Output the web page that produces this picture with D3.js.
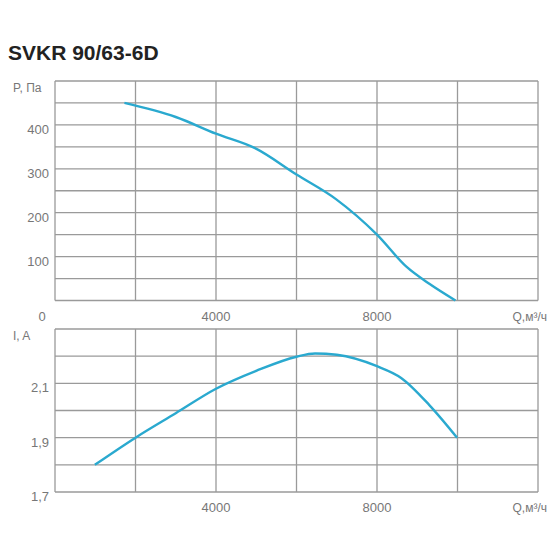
<!DOCTYPE html><html><head><meta charset="utf-8"><script src="https://cdn.jsdelivr.net/npm/d3@7"></script>
<style>body{margin:0;background:#fff}text{font-family:"Liberation Sans",Arial,sans-serif}</style></head><body>
<svg id="c" width="550" height="550"></svg>
<script>
const pQ=[1725,3000,4000,4970,6000,6980,8000,8730,9300,9950];
const pP=[450,418,380,347,287,231,150,77,38,0];
const iQ=[990,2000,3000,4000,5000,6000,6460,7000,8000,8600,9300,9990];
const iI=[1.8,1.9,1.99,2.08,2.146,2.198,2.21,2.205,2.163,2.12,2.02,1.9];
const xTicks=[4000,8000];
const pTicks=[100,200,300,400];
const iTicks=[1.7,1.9,2.1];
const svg=d3.select("#c");
const col="#2aa9cf", grid="#9a9a9a", tc="#777";
svg.append("text").attr("x",8).attr("y",60).attr("font-size",21).attr("font-weight","bold").attr("fill","#222").text("SVKR 90/63-6D");
const x=d3.scaleLinear().domain([0,12000]).range([55,538]);
function panel(y,yt,fmt,gridStep,Q,V,ylab,zeroLab){
  const [y0,y1]=y.domain();
  const g=svg.append("g");
  g.selectAll(".v").data(d3.range(0,12001,2000)).join("line").attr("x1",d=>x(d)).attr("x2",d=>x(d)).attr("y1",y.range()[0]).attr("y2",y.range()[1]).attr("stroke",grid).attr("stroke-width",1.3);
  g.selectAll(".h").data(d3.range(y0,y1+gridStep/2,gridStep)).join("line").attr("x1",x(0)).attr("x2",x(12000)).attr("y1",d=>y(d)).attr("y2",d=>y(d)).attr("stroke",grid).attr("stroke-width",1.3);
  g.selectAll(".yt").data(yt).join("text").attr("x",49).attr("y",d=>y(d)+9).attr("text-anchor","end").attr("font-size",13).attr("fill",tc).text(fmt);
  g.selectAll(".xt").data(xTicks).join("text").attr("x",d=>x(d)).attr("y",y.range()[0]+10+10).attr("text-anchor","middle").attr("font-size",13).attr("fill",tc).text(d=>d);
  g.append("text").attr("x",547).attr("y",y.range()[0]+20).attr("text-anchor","end").attr("font-size",12).attr("fill",tc).text("Q,м³/ч");
  g.append("text").attr("x",13).attr("y",y.range()[1]+11).attr("font-size",12).attr("fill",tc).text(ylab);
  if(zeroLab) g.append("text").attr("x",42).attr("y",y.range()[0]+20).attr("text-anchor","middle").attr("font-size",13).attr("fill",tc).text("0");
  g.append("path").datum(Q.map((q,i)=>[q,V[i]])).attr("d",d3.line().x(d=>x(d[0])).y(d=>y(d[1])).curve(d3.curveMonotoneX)).attr("fill","none").attr("stroke",col).attr("stroke-width",2.4);
}
const yP=d3.scaleLinear().domain([0,500]).range([300.5,81]);
panel(yP,pTicks,d=>d,50,pQ,pP,"P, Па",true);
const yI=d3.scaleLinear().domain([1.7,2.3]).range([492,329]);
panel(yI,iTicks,d=>d3.format(".1f")(d).replace(".",","),0.1,iQ,iI,"I, A",false);
</script></body></html>
